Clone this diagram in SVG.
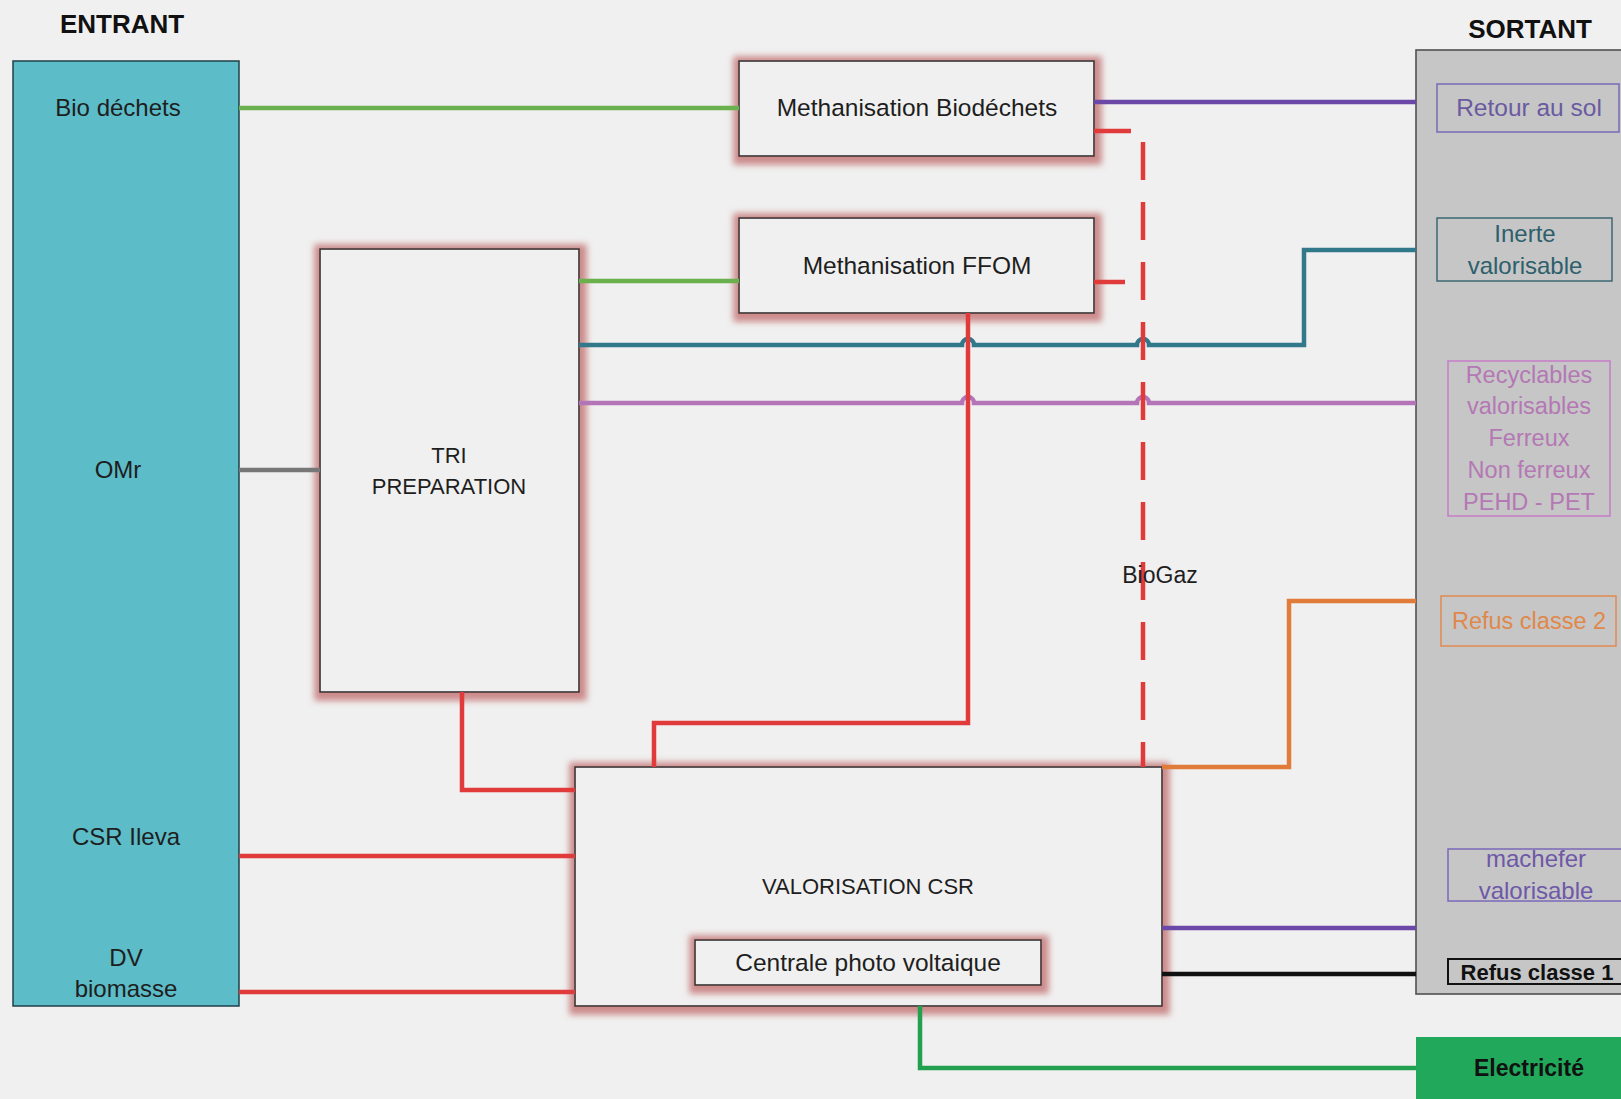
<svg xmlns="http://www.w3.org/2000/svg" width="1621" height="1099" viewBox="0 0 1621 1099">
<defs>
<filter id="glow" x="-20%" y="-50%" width="140%" height="200%">
<feMorphology in="SourceAlpha" operator="dilate" radius="6" result="d"/>
<feGaussianBlur in="d" stdDeviation="3" result="b"/>
<feOffset in="b" dx="1" dy="2" result="o"/>
<feFlood flood-color="#c06a6a" flood-opacity="0.75" result="c"/>
<feComposite in="c" in2="o" operator="in" result="s"/>
<feMerge><feMergeNode in="s"/><feMergeNode in="SourceGraphic"/></feMerge>
</filter>
<style>
text{font-family:"Liberation Sans",Arial,sans-serif;text-anchor:middle}
.t{font-size:24px;fill:#1e1e1e}
.c{font-size:22px;fill:#1e1e1e}
.h{font-size:26px;font-weight:bold;fill:#111}
.proc{fill:#f0f0f0;stroke:#333;stroke-width:1.6;filter:url(#glow)}
.ln{fill:none;stroke-width:4.5;stroke-linejoin:miter}
.red{stroke:#e03a3a}
.grn{stroke:#6ab04c}
.teal{stroke:#31798a}
.pink{stroke:#b374b8}
.pur{stroke:#6b48a8}
.box{fill:none;stroke-width:1.5}
</style>
</defs>
<rect width="1621" height="1099" fill="#f0f0f0"/>

<text class="h" x="122" y="33">ENTRANT</text>
<text class="h" x="1530" y="38">SORTANT</text>

<g id="entrant">
<rect x="13" y="61" width="226" height="945" fill="#5cbcc8" stroke="#1f3f48" stroke-width="1.5"/>
<text class="t" x="118" y="116" fill="#14303a">Bio déchets</text>
<text class="t" x="118" y="478">OMr</text>
<text class="t" x="126" y="845">CSR Ileva</text>
<text class="t" x="126" y="966">DV</text>
<text class="t" x="126" y="997">biomasse</text>
</g>

<g id="sortant">
<rect x="1416" y="50" width="215" height="944" fill="#c6c6c6" stroke="#505050" stroke-width="1.6"/>
</g>

<g id="retour-au-sol">
<rect class="box" x="1437" y="84" width="182" height="48" stroke="#7a6ab4"/>
<text x="1529" y="116" style="font-size:24.5px;fill:#6a5aa0">Retour au sol</text>
</g>
<g id="inerte">
<rect class="box" x="1437" y="218" width="175" height="63" stroke="#3d6874"/>
<text x="1525" y="242" style="font-size:24px;fill:#2e5f6c">Inerte</text>
<text x="1525" y="274" style="font-size:24px;fill:#2e5f6c">valorisable</text>
</g>
<g id="recyclables">
<rect class="box" x="1448" y="361" width="162" height="155" stroke="#c77cc7"/>
<text x="1529" y="383" style="font-size:23.5px;fill:#b478b4">Recyclables</text>
<text x="1529" y="414" style="font-size:23.5px;fill:#b478b4">valorisables</text>
<text x="1529" y="446" style="font-size:23.5px;fill:#b478b4">Ferreux</text>
<text x="1529" y="478" style="font-size:23.5px;fill:#b478b4">Non ferreux</text>
<text x="1529" y="510" style="font-size:23.5px;fill:#b478b4">PEHD - PET</text>
</g>
<g id="refus2">
<rect class="box" x="1441" y="596" width="175" height="50" stroke="#e08a50"/>
<text x="1529" y="629" style="font-size:23.5px;fill:#e0884a">Refus classe 2</text>
</g>
<g id="machefer">
<rect class="box" x="1448" y="849" width="180" height="52" stroke="#7a68b8"/>
<text x="1536" y="867" style="font-size:24px;fill:#6e58a8">machefer</text>
<text x="1536" y="899" style="font-size:24px;fill:#6e58a8">valorisable</text>
</g>
<g id="refus1">
<rect x="1448" y="959" width="180" height="25" fill="none" stroke="#111" stroke-width="2"/>
<text x="1537" y="980" style="font-size:22px;font-weight:bold;fill:#111">Refus classe 1</text>
</g>
<g id="electricite">
<rect x="1416" y="1037" width="215" height="70" fill="#22a85a"/>
<text x="1529" y="1076" style="font-size:23px;font-weight:bold;fill:#111">Electricité</text>
</g>

<g id="meth-bio">
<rect class="proc" x="739" y="61" width="355" height="95"/>
<text class="t" x="917" y="116" style="font-size:24.5px">Methanisation Biodéchets</text>
</g>
<g id="meth-ffom">
<rect class="proc" x="739" y="218" width="355" height="95"/>
<text class="t" x="917" y="274" style="font-size:24.5px">Methanisation FFOM</text>
</g>
<g id="tri">
<rect class="proc" x="320" y="249" width="259" height="443"/>
<text class="c" x="449" y="463">TRI</text>
<text class="c" x="449" y="494">PREPARATION</text>
</g>
<g id="valorisation">
<rect class="proc" x="575" y="767" width="587" height="239"/>
<text class="c" x="868" y="894">VALORISATION CSR</text>
</g>
<g id="centrale">
<rect class="proc" x="695" y="940" width="346" height="45"/>
<text class="t" x="868" y="971" style="font-size:24.5px">Centrale photo voltaique</text>
</g>

<g id="connectors">
<path class="ln grn" d="M239 108 H739"/>
<path class="ln grn" d="M579 281 H739"/>
<path class="ln" stroke="#777" d="M239 470 H320"/>
<path class="ln teal" d="M579 345 H962 a6 6 0 0 1 12 0 H1137 a6 6 0 0 1 12 0 H1304 V250 H1416"/>
<path class="ln pink" d="M579 403 H962 a6 6 0 0 1 12 0 H1137 a6 6 0 0 1 12 0 H1416"/>
<path class="ln pur" d="M1094 102 H1416"/>
<path class="ln red" d="M1094 131 H1131"/>
<path class="ln red" d="M1094 282 H1125"/>
<path class="ln red" stroke-dasharray="38 22" d="M1143 142 V767"/>
<path class="ln red" d="M968 313 V723 H654 V767"/>
<path class="ln red" d="M462 692 V790 H575"/>
<path class="ln red" d="M239 856 H575"/>
<path class="ln red" d="M239 992 H575"/>
<path class="ln" stroke="#e07b39" d="M1162 767 H1289 V601 H1416"/>
<path class="ln pur" d="M1162 928 H1416"/>
<path class="ln" stroke="#111" d="M1162 974 H1416"/>
<path class="ln" stroke="#22a050" d="M920 1006 V1068 H1416"/>
</g>
<text class="t" x="1160" y="583" style="font-size:23px">BioGaz</text>
</svg>
